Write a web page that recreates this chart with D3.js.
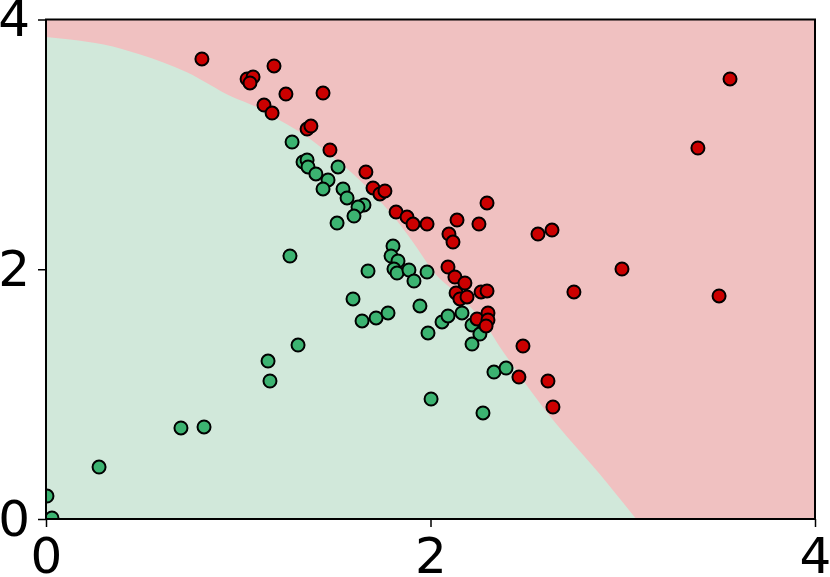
<!DOCTYPE html>
<html>
<head>
<meta charset="utf-8">
<script src="https://cdn.jsdelivr.net/npm/d3@7"></script>
<style>
  body { margin: 0; background: #fff; }
  svg { display: block; font-family: "DejaVu Sans", sans-serif; }
</style>
</head>
<body>
<div id="chart"></div>
<script>
var width = 830
var height = 577
var margin = { top: 19.5, right: 15, bottom: 58, left: 46 }

var tickValues = [0, 2, 4]

// class 0 points (green)
var greenX = [0.005, 0.031, 0.276, 0.702, 0.822, 1.155, 1.165, 1.311, 1.269, 1.280, 1.337, 1.358,
  1.363, 1.404, 1.467, 1.441, 1.519, 1.545, 1.566, 1.654, 1.623, 1.602, 1.514, 1.805, 1.795, 1.831,
  1.810, 1.826, 1.888, 1.914, 1.982, 1.675, 1.597, 1.644, 1.717, 1.779, 1.945, 1.987, 2.060, 2.091,
  2.164, 2.216, 2.257, 2.216, 2.330, 2.393, 2.003, 2.273]
var greenY = [0.184, 0.008, 0.416, 0.729, 0.737, 1.265, 1.105, 1.393, 2.106, 3.019, 2.859, 2.875,
  2.819, 2.763, 2.715, 2.643, 2.819, 2.643, 2.571, 2.515, 2.498, 2.426, 2.370, 2.186, 2.106, 2.066,
  2.002, 1.970, 1.994, 1.906, 1.978, 1.986, 1.762, 1.586, 1.610, 1.650, 1.706, 1.490, 1.578, 1.626,
  1.650, 1.554, 1.481, 1.401, 1.177, 1.209, 0.961, 0.849]

// class 1 points (red)
var redX = [0.811, 1.046, 1.077, 1.061, 1.186, 1.248, 1.441, 1.134, 1.176, 1.358, 1.378, 1.477,
  1.664, 1.701, 1.737, 1.763, 1.821, 1.878, 1.909, 1.982, 2.138, 2.294, 2.252, 2.096, 2.117, 2.091,
  2.127, 2.179, 2.133, 2.153, 2.190, 2.263, 2.294, 2.242, 2.299, 2.299, 2.289, 2.559, 2.632, 2.996,
  2.746, 3.501, 3.391, 3.558, 2.481, 2.460, 2.611, 2.637]
var redY = [3.684, 3.524, 3.540, 3.492, 3.628, 3.403, 3.411, 3.315, 3.251, 3.123, 3.147, 2.955,
  2.779, 2.651, 2.603, 2.627, 2.458, 2.418, 2.362, 2.362, 2.394, 2.531, 2.362, 2.282, 2.218, 2.018,
  1.938, 1.890, 1.810, 1.762, 1.778, 1.818, 1.826, 1.602, 1.650, 1.594, 1.546, 2.282, 2.314, 2.002,
  1.818, 1.786, 2.971, 3.524, 1.385, 1.137, 1.105, 0.897]

// decision boundary between the two regions
var boundaryX = [0, 0.125, 0.30, 0.49, 0.73, 0.97, 1.08, 1.22, 1.36, 1.49, 1.62, 1.74, 1.84, 1.93,
  2.01, 2.14, 2.29, 2.36, 2.41, 2.52, 2.66, 2.88, 2.97, 3.07]
var boundaryY = [3.86, 3.84, 3.80, 3.72, 3.58, 3.38, 3.31, 3.19, 3.06, 2.90, 2.73, 2.54, 2.36, 2.17,
  1.99, 1.80, 1.55, 1.38, 1.27, 1.03, 0.75, 0.36, 0.19, 0]

var xScale = d3.scaleLinear()
  .domain([0, 4])
  .range([margin.left, width - margin.right])

var yScale = d3.scaleLinear()
  .domain([0, 4])
  .range([height - margin.bottom, margin.top])

var svg = d3.select('#chart')
  .append('svg')
  .attr('width', width)
  .attr('height', height)

svg.append('clipPath')
  .attr('id', 'plot-clip')
  .append('rect')
  .attr('x', xScale(0))
  .attr('y', yScale(4))
  .attr('width', xScale(4) - xScale(0))
  .attr('height', yScale(0) - yScale(4))

var plot = svg.append('g')
  .attr('clip-path', 'url(#plot-clip)')

// red region fills the whole box, green region drawn on top
plot.append('rect')
  .attr('x', xScale(0))
  .attr('y', yScale(4))
  .attr('width', xScale(4) - xScale(0))
  .attr('height', yScale(0) - yScale(4))
  .style('fill', '#f0c1c1')

var area = d3.area()
  .x(d => xScale(d[0]))
  .y0(yScale(0))
  .y1(d => yScale(d[1]))
  .curve(d3.curveMonotoneX)

plot.append('path')
  .datum(boundaryX.map((x, i) => [x, boundaryY[i]]))
  .attr('d', area)
  .style('fill', '#d1e8da')

// scatter points
var points = greenX.map((x, i) => ({ x: x, y: greenY[i], c: '#3cb371' }))
  .concat(redX.map((x, i) => ({ x: x, y: redY[i], c: '#cc0000' })))

plot.selectAll('circle')
  .data(points)
  .enter()
  .append('circle')
  .attr('cx', d => xScale(d.x))
  .attr('cy', d => yScale(d.y))
  .attr('r', 6.5)
  .style('fill', d => d.c)
  .style('stroke', '#000')
  .style('stroke-width', 2)

// axes
var xAxis = d3.axisBottom(xScale)
  .tickValues(tickValues)
  .tickFormat(d3.format('d'))
  .tickSize(8)
  .tickPadding(10)

var yAxis = d3.axisLeft(yScale)
  .tickValues(tickValues)
  .tickFormat(d3.format('d'))
  .tickSize(8)
  .tickPadding(8)

svg.append('g')
  .attr('transform', `translate(0,${yScale(0)})`)
  .call(xAxis)
  .call(g => g.select('.domain').remove())
  .selectAll('text')
  .style('font-size', '50px')
  .style('font-family', '"DejaVu Sans", sans-serif')
  .style('fill', '#000')

svg.append('g')
  .attr('transform', `translate(${xScale(0)},0)`)
  .call(yAxis)
  .call(g => g.select('.domain').remove())
  .selectAll('text')
  .style('font-size', '50px')
  .style('font-family', '"DejaVu Sans", sans-serif')
  .style('fill', '#000')

svg.selectAll('.tick line')
  .style('stroke', '#000')
  .style('stroke-width', 1.5)

// frame
svg.append('rect')
  .attr('x', xScale(0))
  .attr('y', yScale(4))
  .attr('width', xScale(4) - xScale(0))
  .attr('height', yScale(0) - yScale(4))
  .style('fill', 'none')
  .style('stroke', '#000')
  .style('stroke-width', 2)
</script>
</body>
</html>
